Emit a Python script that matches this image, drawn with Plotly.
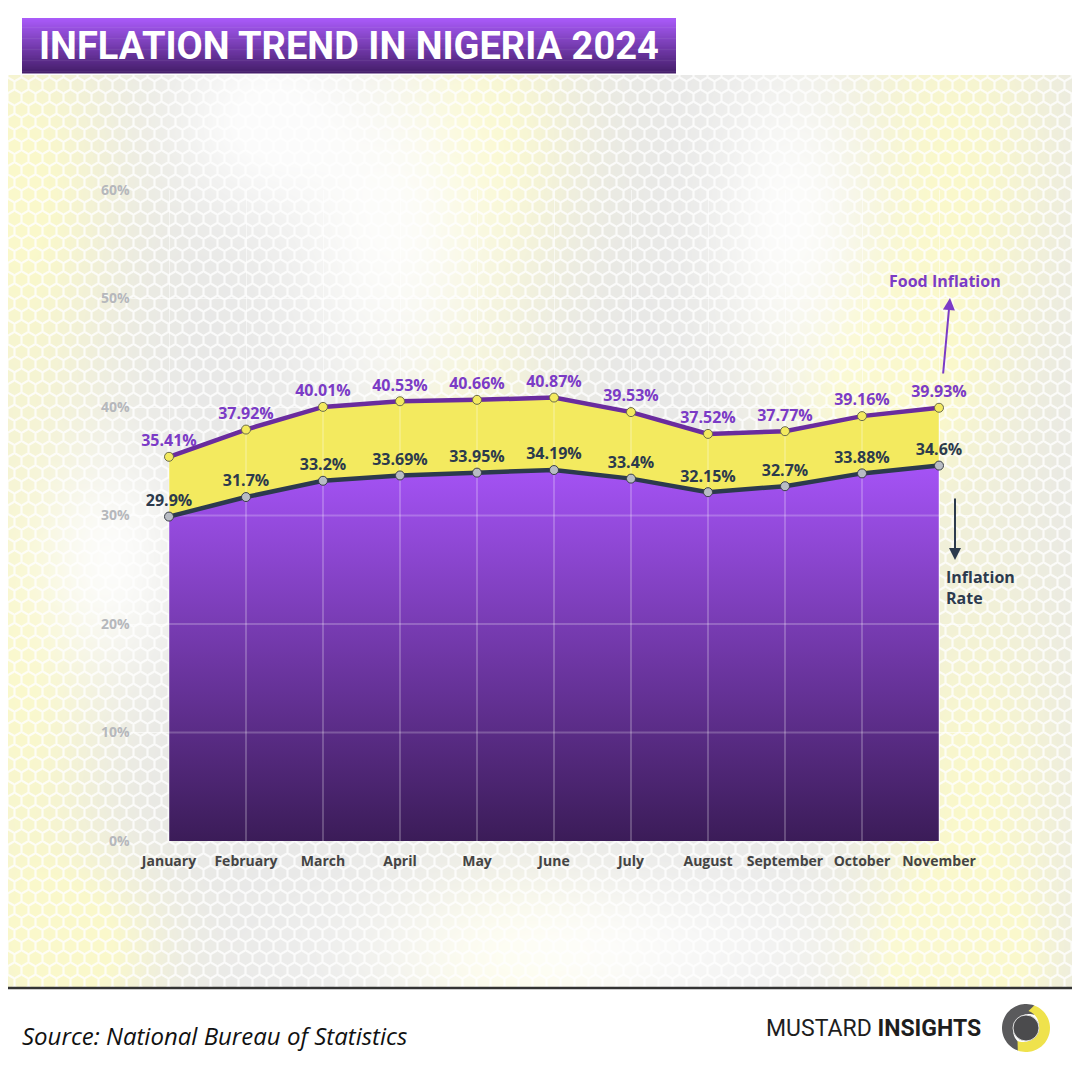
import base64
import struct
import zlib

import numpy as np
import plotly.graph_objects as go

# ---------------- data ----------------
months = ["January", "February", "March", "April", "May", "June",
          "July", "August", "September", "October", "November"]
food_inflation = [35.41, 37.92, 40.01, 40.53, 40.66, 40.87, 39.53, 37.52, 37.77, 39.16, 39.93]
inflation_rate = [29.9, 31.7, 33.2, 33.69, 33.95, 34.19, 33.4, 32.15, 32.7, 33.88, 34.6]
y_ticks = [0, 10, 20, 30, 40, 50, 60]
y_tick_labels = ["0%", "10%", "20%", "30%", "40%", "50%", "60%"]

W = H = 1080
OFF = 8  # page body margin offset


def px(x):
    return (x - OFF) / W


def py(y):
    return 1 - (y - OFF) / H


# ---------------- decorative honeycomb background (image) ----------------
def make_background():
    yy, xx = np.mgrid[0:H, 0:W].astype(np.float32)
    xx += OFF
    yy += OFF

    def gauss(cx, cy, sx, sy):
        return np.exp(-((xx - cx) ** 2 / (2 * sx * sx) + (yy - cy) ** 2 / (2 * sy * sy)))

    yellow_glows = [(20, 180, 70, 140), (20, 680, 60, 220), (480, 140, 70, 110),
                    (470, 520, 55, 140), (950, 170, 80, 150), (880, 390, 70, 80),
                    (970, 820, 70, 190), (520, 965, 70, 55), (950, 965, 60, 50),
                    (80, 950, 60, 60)]
    white_glows = [(390, 230, 70, 120), (790, 220, 55, 110), (580, 950, 170, 55),
                   (110, 560, 50, 80), (260, 120, 60, 60)]
    wy = np.clip(sum(gauss(*g) for g in yellow_glows), 0, 1) * 0.9
    ww = np.clip(sum(gauss(*g) for g in white_glows), 0, 1) * 0.85
    base = np.array([232, 232, 231], dtype=np.float32)
    yel = np.array([252, 250, 200], dtype=np.float32)
    col = base * (1 - wy[..., None]) + yel * wy[..., None]
    col = col * (1 - ww[..., None]) + 255 * ww[..., None]

    sc = 14.0
    p = np.stack([xx / sc, yy / sc], -1)
    s = np.array([1.0, 1.7320508], dtype=np.float32)
    h = s / 2
    a = np.mod(p, s) - h
    b = np.mod(p - h, s) - h
    use_a = (a * a).sum(-1) < (b * b).sum(-1)
    gv = np.where(use_a[..., None], a, b)
    ag = np.abs(gv)
    hd = np.maximum(ag[..., 0] * 0.5 + ag[..., 1] * 0.8660254, ag[..., 0])
    e = (0.5 - hd) * sc
    lw = np.clip(1.6 - e, 0, 1)
    col = col * (1 - 0.8 * lw[..., None]) + 255 * 0.8 * lw[..., None]

    col[yy < 75] = 255
    col[yy >= 988] = 255
    img = np.clip(col, 0, 255).astype(np.uint8)
    raw = b"".join(b"\x00" + img[r].tobytes() for r in range(H))

    def chunk(t, d):
        c = struct.pack(">I", len(d)) + t + d
        return c + struct.pack(">I", zlib.crc32(t + d) & 0xFFFFFFFF)

    png = (b"\x89PNG\r\n\x1a\n"
           + chunk(b"IHDR", struct.pack(">IIBBBBB", W, H, 8, 2, 0, 0, 0))
           + chunk(b"IDAT", zlib.compress(raw, 9))
           + chunk(b"IEND", b""))
    return "data:image/png;base64," + base64.b64encode(png).decode()


bg_src = make_background()

# ---------------- colours ----------------
PURPLE_LINE = "#6a2c9e"
PURPLE_TEXT = "#7b3bc6"
NAVY = "#2c3a4d"
YELLOW = "#f3ea5f"
FONT = "Open Sans"

fig = go.Figure()

# inflation area (gradient purple)
fig.add_trace(go.Scatter(
    x=months, y=inflation_rate, mode="lines", line=dict(width=0),
    fill="tozeroy",
    fillgradient=dict(type="vertical", colorscale=[[0, "#3b1c58"], [1, "#a553f6"]]),
    hoverinfo="skip", showlegend=False))
# food area (yellow between)
fig.add_trace(go.Scatter(
    x=months, y=food_inflation, mode="lines", line=dict(width=0),
    fill="tonexty", fillcolor=YELLOW, hoverinfo="skip", showlegend=False))

# grid lines drawn over fills
gx, gy = [], []
for m, f in zip(months, food_inflation):
    gx += [m, m, None]
    gy += [0, f, None]
for v in [10, 20, 30]:
    gx += [months[0], months[-1], None]
    gy += [v, v, None]
fig.add_trace(go.Scatter(x=gx, y=gy, mode="lines",
                         line=dict(color="rgba(255,255,255,0.22)", width=2),
                         hoverinfo="skip", showlegend=False))

# food line
fig.add_trace(go.Scatter(
    x=months, y=food_inflation, mode="lines+markers+text",
    line=dict(color=PURPLE_LINE, width=4.5),
    marker=dict(size=9, color=YELLOW, line=dict(color="#6b6b4a", width=1)),
    text=[f"{v}%" for v in food_inflation], textposition="top center",
    textfont=dict(family=FONT, size=16, color=PURPLE_TEXT, weight="bold"),
    showlegend=False, name="Food Inflation"))

# inflation line
fig.add_trace(go.Scatter(
    x=months, y=inflation_rate, mode="lines+markers+text",
    line=dict(color=NAVY, width=4.5),
    marker=dict(size=9, color="#b8bcc4", line=dict(color="#3a3f48", width=1)),
    text=[f"{v}%" for v in inflation_rate], textposition="top center",
    textfont=dict(family=FONT, size=16, color=NAVY, weight="bold"),
    showlegend=False, name="Inflation Rate"))

# ---------------- shapes ----------------
shapes = []
# title gradient box
top, bot, n = 18, 73, 30
c0 = np.array([0xa9, 0x5b, 0xf8])
c1 = np.array([0x46, 0x1f, 0x6c])
for i in range(n):
    t = i / (n - 1)
    c = (c0 * (1 - t) + c1 * t).astype(int)
    y0 = top + (bot - top) * i / n
    y1 = top + (bot - top) * (i + 1) / n + 0.6
    shapes.append(dict(type="rect", xref="paper", yref="paper",
                       x0=px(22), x1=px(676), y0=py(y1), y1=py(y0),
                       fillcolor=f"rgb({c[0]},{c[1]},{c[2]})", line=dict(width=0), layer="above"))
# footer line
shapes.append(dict(type="line", xref="paper", yref="paper", x0=0, x1=1,
                   y0=py(988), y1=py(988), line=dict(color="#333333", width=2.5)))


# logo
def arc_path(cx, cy, r_out, r_in, a0, a1, off=(0, 0), steps=40):
    angs = np.linspace(np.radians(a0), np.radians(a1), steps)
    pts = [(cx + r_out * np.cos(a), cy - r_out * np.sin(a)) for a in angs]
    pts += [(cx + off[0] + r_in * np.cos(a), cy + off[1] - r_in * np.sin(a)) for a in angs[::-1]]
    d = "M " + " L ".join(f"{px(x):.5f},{py(y):.5f}" for x, y in pts) + " Z"
    return d


lcx, lcy = 1026, 1028
shapes.append(dict(type="path", xref="paper", yref="paper",
                   path=arc_path(lcx, lcy, 24, 16, 70, 250, off=(3, 2)),
                   fillcolor="#5a5a5c", line=dict(width=0)))
shapes.append(dict(type="path", xref="paper", yref="paper",
                   path=arc_path(lcx, lcy, 24, 16, -110, 70, off=(-3, -2)),
                   fillcolor="#efe24c", line=dict(width=0)))
shapes.append(dict(type="circle", xref="paper", yref="paper",
                   x0=px(lcx - 13), x1=px(lcx + 13), y0=py(lcy + 13), y1=py(lcy - 13),
                   fillcolor="#4b4b4d", line=dict(color="#dddddd", width=1)))


# ---------------- annotations ----------------
def ann(text, x, y, xa="center", ya="middle", **kw):
    d = dict(text=text, x=px(x), y=py(y), xref="paper", yref="paper",
             xanchor=xa, yanchor=ya, showarrow=False)
    d.update(kw)
    return d


annotations = [
    ann("<b>INFLATION TREND IN NIGERIA 2024</b>", 349, 46,
        font=dict(family="Roboto", size=38, color="white")),
    ann("<b>Food Inflation</b>", 945, 281, font=dict(family=FONT, size=16, color=PURPLE_TEXT)),
    dict(text="", x=px(950), y=py(298), xref="paper", yref="paper",
         ax=-7, ay=77, axref="pixel", ayref="pixel", showarrow=True,
         arrowhead=2, arrowsize=1.2, arrowwidth=2, arrowcolor=PURPLE_TEXT),
    dict(text="", x=px(955), y=py(560), xref="paper", yref="paper",
         ax=0, ay=-63, axref="pixel", ayref="pixel", showarrow=True,
         arrowhead=2, arrowsize=1.2, arrowwidth=2, arrowcolor=NAVY),
    ann("<b>Inflation<br>Rate</b>", 944, 587, xa="left", align="left",
        font=dict(family=FONT, size=16, color=NAVY)),
    ann("<i>Source: National Bureau of Statistics</i>", 20, 1035, xa="left",
        font=dict(family=FONT, size=24, color="#111111")),
    ann("MUSTARD <b>INSIGHTS</b>", 983, 1028, xa="right",
        font=dict(family="Roboto", size=23, color="#1e1e1e")),
]

fig.update_layout(
    template="none",
    width=W, height=H,
    margin=dict(l=0, r=0, t=0, b=0, pad=0, autoexpand=False),
    paper_bgcolor="white", plot_bgcolor="rgba(0,0,0,0)",
    showlegend=False,
    shapes=shapes, annotations=annotations,
    images=[dict(source=bg_src, xref="paper", yref="paper", x=0, y=1, sizex=1, sizey=1,
                 xanchor="left", yanchor="top", sizing="stretch", layer="below")],
    xaxis=dict(domain=[px(130.5), px(977.5)], range=[-0.5, 10.5], type="category",
               automargin=False, showgrid=True, gridcolor="rgba(255,255,255,0.55)", gridwidth=1,
               zeroline=False, showline=False, ticks="",
               ticklabelstandoff=10,
               tickfont=dict(family=FONT, size=14, color="#444444", weight="bold")),
    yaxis=dict(domain=[py(841), py(190)], range=[0, 60], tickvals=y_ticks, ticktext=y_tick_labels,
               automargin=False, showgrid=True, gridcolor="rgba(255,255,255,0.55)", gridwidth=1,
               zeroline=False, showline=False, ticks="",
               tickfont=dict(family=FONT, size=14, color="#b6b8bc", weight="bold")),
)

fig.write_html("out.html")
